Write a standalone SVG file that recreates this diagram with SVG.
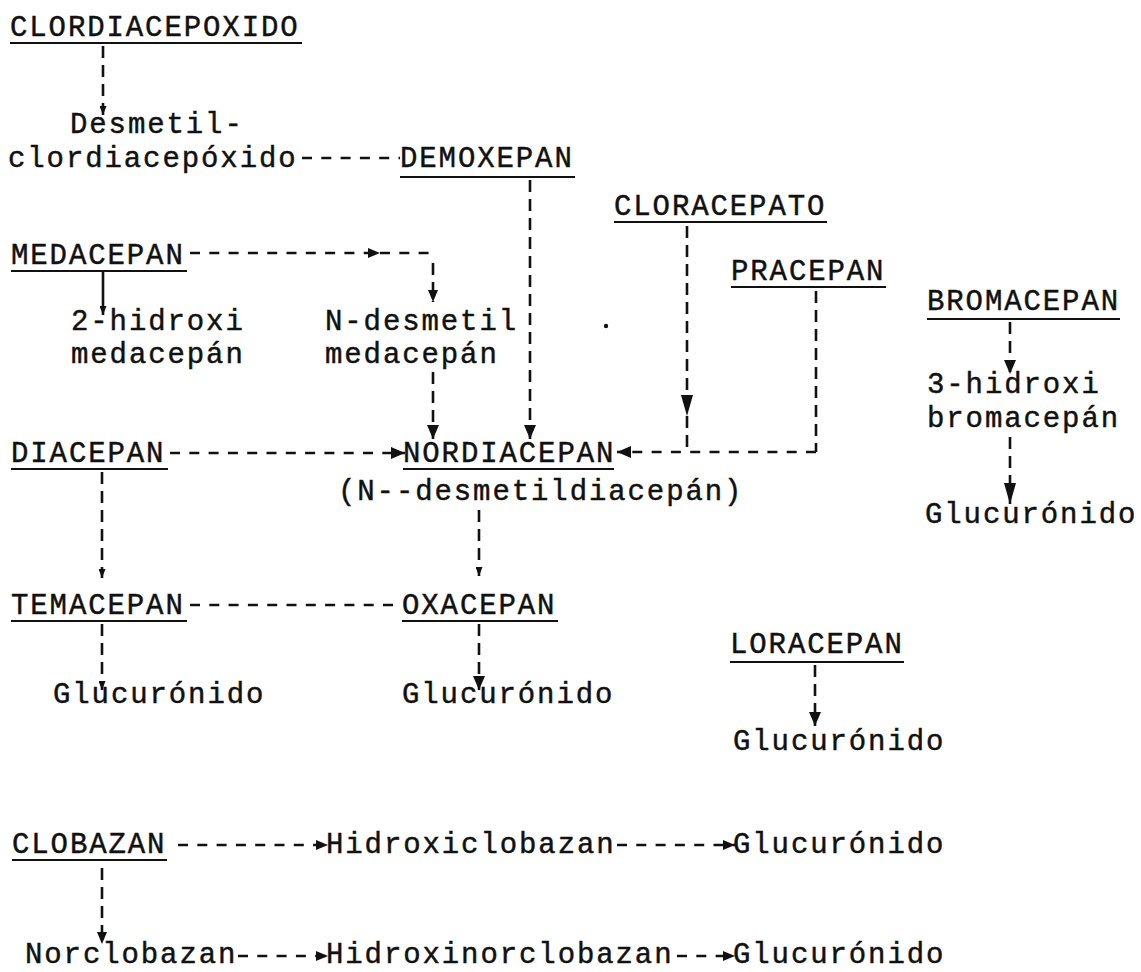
<svg xmlns="http://www.w3.org/2000/svg" width="1141" height="972" viewBox="0 0 1141 972">
<style>
text{font-family:"Liberation Mono","DejaVu Sans Mono",monospace;font-size:29px;letter-spacing:1.9px;fill:#111;stroke:#111;stroke-width:0.45}
.ul{stroke:#111;stroke-width:2}
.dh{stroke:#111;stroke-width:2.6;fill:none;stroke-dasharray:10 9.3}
.dv{stroke:#111;stroke-width:2.6;fill:none;stroke-dasharray:12 7}
.sv{stroke:#111;stroke-width:2.6;fill:none}
.as{marker-end:url(#aS)}
.am{marker-end:url(#aM)}
.aw{marker-end:url(#aW)}
.al{marker-end:url(#aL)}
</style>
<defs>
<marker id="aS" markerWidth="9" markerHeight="7" refX="9" refY="3.5" orient="auto" markerUnits="userSpaceOnUse"><path d="M0,0 L9,3.5 L0,7 z" fill="#111"/></marker>
<marker id="aM" markerWidth="12" markerHeight="10" refX="12" refY="5" orient="auto" markerUnits="userSpaceOnUse"><path d="M0,0 L12,5 L0,10 z" fill="#111"/></marker>
<marker id="aW" markerWidth="14" markerHeight="12" refX="14" refY="6" orient="auto" markerUnits="userSpaceOnUse"><path d="M0,0 L14,6 L0,12 z" fill="#111"/></marker>
<marker id="aL" markerWidth="21" markerHeight="12" refX="21" refY="6" orient="auto" markerUnits="userSpaceOnUse"><path d="M0,0 L21,6 L0,12 z" fill="#111"/></marker>
</defs>
<rect width="1141" height="972" fill="#fff"/>

<g id="connectors">
<line class="dv as" x1="103" y1="46" x2="103" y2="115"/>
<line class="dh" x1="302" y1="158" x2="400" y2="158"/>
<line class="dv aw" x1="530" y1="180" x2="530" y2="439"/>
<line class="dv al" x1="687" y1="226" x2="687" y2="416"/>
<line class="dv" x1="687" y1="416" x2="687" y2="452"/>
<line class="dh am" x1="190" y1="253" x2="380" y2="253"/>
<line class="dh" x1="380" y1="253" x2="434" y2="253"/>
<line class="dv am" x1="433" y1="263" x2="433" y2="302"/>
<line class="sv as" x1="103" y1="271" x2="103" y2="315"/>
<line class="dv" x1="816" y1="291" x2="816" y2="452"/>
<line class="dh aw" x1="816" y1="452" x2="617" y2="452"/>
<line class="dv aw" x1="1010" y1="322" x2="1010" y2="374"/>
<line class="dv aw" x1="433" y1="372" x2="433" y2="439"/>
<line class="dv al" x1="1010" y1="437" x2="1010" y2="504"/>
<line class="dh aw" x1="170" y1="453" x2="405" y2="453"/>
<line class="dv as" x1="102" y1="472" x2="102" y2="578"/>
<line class="dv as" x1="479" y1="510" x2="479" y2="576"/>
<line class="dh" x1="190" y1="605" x2="402" y2="605"/>
<line class="dv as" x1="102" y1="624" x2="102" y2="690"/>
<line class="dv aw" x1="479" y1="624" x2="479" y2="690"/>
<line class="dv aw" x1="815" y1="665" x2="815" y2="726"/>
<line class="dh am" x1="178" y1="845" x2="328" y2="845"/>
<line class="dh am" x1="617" y1="845" x2="735" y2="845"/>
<line class="dv am" x1="102" y1="868" x2="102" y2="944"/>
<line class="dh am" x1="238" y1="956" x2="328" y2="956"/>
<line class="dh am" x1="677" y1="956" x2="735" y2="956"/>
</g>

<g id="n-clordiacepoxido"><text x="10" y="36">CLORDIACEPOXIDO</text><line class="ul" x1="10" y1="43" x2="302" y2="43"/></g>
<g id="n-desmetilclordiacepoxido"><text x="70" y="133">Desmetil-</text><text x="8" y="167">clordiacepóxido</text></g>
<g id="n-demoxepan"><text x="400" y="167">DEMOXEPAN</text><line class="ul" x1="400" y1="177" x2="575" y2="177"/></g>
<g id="n-cloracepato"><text x="614" y="215">CLORACEPATO</text><line class="ul" x1="614" y1="222" x2="827" y2="222"/></g>
<g id="n-medacepan"><text x="11" y="264">MEDACEPAN</text><line class="ul" x1="11" y1="271" x2="187" y2="271"/></g>
<g id="n-pracepan"><text x="731" y="280">PRACEPAN</text><line class="ul" x1="731" y1="287" x2="886" y2="287"/></g>
<g id="n-bromacepan"><text x="927" y="310">BROMACEPAN</text><line class="ul" x1="927" y1="319" x2="1120" y2="319"/></g>
<g id="n-2hidroximedacepan"><text x="71" y="330">2-hidroxi</text><text x="71" y="363">medacepán</text></g>
<g id="n-ndesmetilmedacepan"><text x="325" y="330">N-desmetil</text><text x="325" y="363">medacepán</text></g>
<g id="n-3hidroxibromacepan"><text x="927" y="393">3-hidroxi</text><text x="927" y="427">bromacepán</text></g>
<g id="n-diacepan"><text x="11" y="462">DIACEPAN</text><line class="ul" x1="11" y1="469" x2="168" y2="469"/></g>
<g id="n-nordiacepan"><text x="403" y="462">NORDIACEPAN</text><line class="ul" x1="403" y1="469" x2="614" y2="469"/><text x="338" y="500">(N--desmetildiacepán)</text></g>
<g id="n-glucuronido-brom"><text x="925" y="523">Glucurónido</text></g>
<g id="n-temacepan"><text x="11" y="614">TEMACEPAN</text><line class="ul" x1="11" y1="621" x2="187" y2="621"/></g>
<g id="n-oxacepan"><text x="402" y="614">OXACEPAN</text><line class="ul" x1="402" y1="621" x2="558" y2="621"/></g>
<g id="n-glucuronido-tem"><text x="53" y="703">Glucurónido</text></g>
<g id="n-glucuronido-oxa"><text x="402" y="703">Glucurónido</text></g>
<g id="n-loracepan"><text x="730" y="653">LORACEPAN</text><line class="ul" x1="730" y1="662" x2="904" y2="662"/></g>
<g id="n-glucuronido-lor"><text x="733" y="750">Glucurónido</text></g>
<g id="n-clobazan"><text x="12" y="853">CLOBAZAN</text><line class="ul" x1="12" y1="860" x2="167" y2="860"/></g>
<g id="n-hidroxiclobazan"><text x="326" y="853">Hidroxiclobazan</text></g>
<g id="n-glucuronido-hc"><text x="733" y="853">Glucurónido</text></g>
<g id="n-norclobazan"><text x="25" y="963">Norclobazan</text></g>
<g id="n-hidroxinorclobazan"><text x="326" y="963">Hidroxinorclobazan</text></g>
<g id="n-glucuronido-hnc"><text x="733" y="963">Glucurónido</text></g>
<circle cx="606" cy="326" r="2.2" fill="#111"/>
</svg>
